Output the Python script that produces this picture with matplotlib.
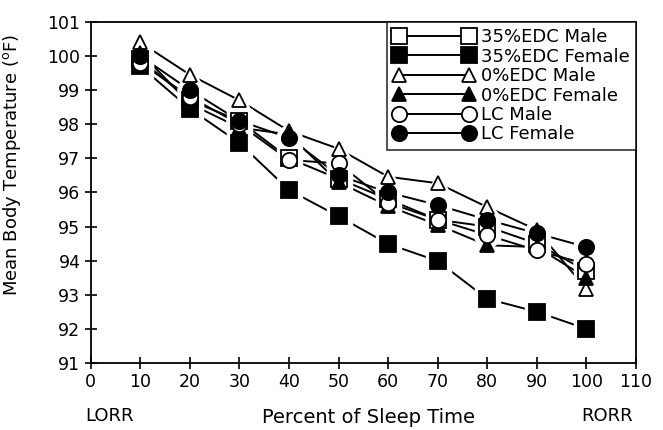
import matplotlib
matplotlib.use('Agg')
import matplotlib.pyplot as plt

plt.rcParams['font.family'] = ['DejaVu Sans']
plt.rcParams['mathtext.default'] = 'regular'

pct = [10, 20, 30, 40, 50, 60, 70, 80, 90, 100]

edc35_male = [99.9, 98.7, 98.1, 97.0, 96.4, 95.8, 95.2, 95.0, 94.5, 93.7]
edc35_female = [99.7, 98.45, 97.45, 96.07, 95.3, 94.49, 93.99, 92.88, 92.5, 92.0]
edc0_male = [100.4, 99.45, 98.7, 97.8, 97.28, 96.46, 96.27, 95.57, 94.9, 93.17]
edc0_female = [100.1, 98.6, 97.9, 97.7, 96.3, 95.6, 95.05, 94.45, 94.4, 93.5]
lc_male = [99.8, 98.8, 98.0, 96.95, 96.85, 95.7, 95.2, 94.75, 94.3, 93.9]
lc_female = [100.0, 99.0, 98.1, 97.6, 96.5, 96.0, 95.63, 95.2, 94.8, 94.4]

series = [
    ('35%EDC Male', edc35_male, 's', 'white'),
    ('35%EDC Female', edc35_female, 's', 'black'),
    ('0%EDC Male', edc0_male, '^', 'white'),
    ('0%EDC Female', edc0_female, '^', 'black'),
    ('LC Male', lc_male, 'o', 'white'),
    ('LC Female', lc_female, 'o', 'black'),
]

fig = plt.figure(figsize=(6.63, 4.3), dpi=100)
ax = fig.add_axes([0.137, 0.156, 0.822, 0.793])

# lines first, then white halos to make the little gaps, then markers
for name, vals, mk, fc in series:
    ax.plot(pct, vals, '-', color='black', linewidth=1.4, zorder=2)
for name, vals, mk, fc in series:
    ax.plot(pct, vals, linestyle='none', marker=mk, markersize=18,
            markerfacecolor='white', markeredgecolor='white', zorder=3)
handles = []
for name, vals, mk, fc in series:
    ms = 11 if mk != '^' else 10.5
    ax.plot(pct, vals, linestyle='none', marker=mk, markersize=ms,
            markerfacecolor=fc, markeredgecolor='black', markeredgewidth=1.3, zorder=4)
    h, = ax.plot([], [], '-', color='black', linewidth=1.4, marker=mk, markersize=ms,
                 markerfacecolor=fc, markeredgecolor='black', markeredgewidth=1.3)
    handles.append(h)

ax.set_xlim(0, 110)
ax.set_ylim(91, 101)
ax.set_xticks(range(0, 111, 10))
ax.set_yticks(range(91, 102))
ax.tick_params(direction='inout', length=9, width=1.2, labelsize=12.5, pad=3)
for sp in ax.spines.values():
    sp.set_linewidth(1.3)

ax.set_ylabel('Mean Body Temperature ($^{o}$F)', fontsize=13)
ax.yaxis.set_label_coords(-0.125, 0.58)

ax.text(-1.2, -0.155, 'LORR', transform=ax.get_xaxis_transform(), fontsize=13,
        ha='left', va='center')
ax.text(100 - 1, -0.155, 'RORR', transform=ax.get_xaxis_transform(), fontsize=13,
        ha='left', va='center')
ax.text(0.51, -0.16, 'Percent of Sleep Time', transform=ax.transAxes, fontsize=14,
        ha='center', va='center')

leg = ax.legend(handles, [s[0] for s in series], loc='upper right', numpoints=2,
                fontsize=13, handlelength=4.5, handletextpad=0.35, labelspacing=0.08,
                borderpad=0.35, borderaxespad=0, frameon=True, fancybox=False)
leg.get_frame().set_edgecolor('black')
leg.get_frame().set_linewidth(1.2)

fig.savefig('out.png', dpi=100)
